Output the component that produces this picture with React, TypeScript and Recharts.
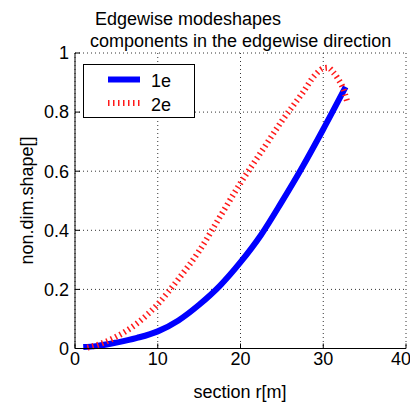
import React from 'react';
import { LineChart, Line, XAxis, YAxis, CartesianGrid, Legend } from 'recharts';

const FONT = '"Liberation Sans", Arial, sans-serif';

const titleLines = ['Edgewise modeshapes', 'components in the edgewise direction'];
const xLabel = 'section r[m]';
const yLabel = 'non.dim.shape[]';
const xTicks = [0, 10, 20, 30, 40];
const yTicks = [0, 0.2, 0.4, 0.6, 0.8, 1];
const seriesNames = ['1e', '2e'];

const blueX = [1, 2.5, 5, 7.5, 10, 12.5, 15, 17.5, 20, 22.5, 25, 27.5, 30, 32.7];
const blueY = [0.005, 0.008, 0.02, 0.036, 0.058, 0.095, 0.148, 0.212, 0.292, 0.385, 0.497, 0.615, 0.742, 0.885];

const redX = [1.5, 3, 5, 7.5, 10, 12.5, 15, 17.5, 20, 22.5, 25, 27.5, 29, 30, 30.6, 31.2, 31.8, 32.3, 32.9];
const redY = [0.003, 0.015, 0.04, 0.085, 0.15, 0.235, 0.33, 0.445, 0.56, 0.665, 0.77, 0.865, 0.925, 0.948, 0.95, 0.935, 0.912, 0.887, 0.835];

const blueData = blueX.map((x, i) => ({ x, y: blueY[i] }));
const redData = redX.map((x, i) => ({ x, y: redY[i] }));

const BLUE = '#0000ff';
const RED = '#ff1a1a';
const RED_DASH = '1.5 3.5';

const renderLegend = () => (
  <svg width={112} height={54} style={{ display: 'block' }}>
    <rect x={0.5} y={0.5} width={111} height={53} fill="#fff" stroke="#000" strokeWidth={1} />
    <line x1={25} x2={57} y1={15.5} y2={15.5} stroke={BLUE} strokeWidth={6} />
    <text x={68} y={23} fontSize={18} fontFamily={FONT} fill="#000">{seriesNames[0]}</text>
    <line x1={25} x2={57} y1={39} y2={39} stroke={RED} strokeWidth={6} strokeDasharray={RED_DASH} />
    <text x={68} y={46.5} fontSize={18} fontFamily={FONT} fill="#000">{seriesNames[1]}</text>
  </svg>
);

export default function App() {
  return (
    <div style={{ position: 'absolute', left: 0, top: 0, width: 410, height: 406, background: '#fff' }}>
      <LineChart
        width={410}
        height={406}
        margin={{ top: 53, right: 4, bottom: 27.5, left: 0 }}
        style={{ fontFamily: FONT }}
      >
        <CartesianGrid stroke="#333" strokeDasharray="1 3" />
        <XAxis
          type="number"
          dataKey="x"
          domain={[0, 40]}
          ticks={xTicks}
          allowDataOverflow
          height={30}
          stroke="#000"
          tickSize={-5}
          tickMargin={9}
          tick={{ fill: '#000', fontSize: 18, fontFamily: FONT }}
        />
        <YAxis
          type="number"
          dataKey="y"
          domain={[0, 1]}
          ticks={yTicks}
          width={75}
          stroke="#000"
          tickSize={-5}
          tickMargin={11}
          tick={{ fill: '#000', fontSize: 18, fontFamily: FONT }}
        />
        <Legend
          layout="horizontal"
          verticalAlign="middle"
          align="center"
          content={renderLegend}
          wrapperStyle={{ position: 'absolute', left: 83, top: 64, width: 112, height: 54 }}
        />
        <Line
          data={blueData}
          dataKey="y"
          name={seriesNames[0]}
          type="monotone"
          stroke={BLUE}
          strokeWidth={6}
          dot={false}
          isAnimationActive={false}
        />
        <Line
          data={redData}
          dataKey="y"
          name={seriesNames[1]}
          type="monotone"
          stroke={RED}
          strokeWidth={6}
          strokeDasharray={RED_DASH}
          dot={false}
          isAnimationActive={false}
        />
      </LineChart>
      <svg
        width={410}
        height={406}
        style={{ position: 'absolute', left: 0, top: 0, pointerEvents: 'none' }}
      >
        <text x={95} y={25} fontSize={18} fontFamily={FONT} fill="#000">{titleLines[0]}</text>
        <text x={90} y={47} fontSize={18} fontFamily={FONT} fill="#000">{titleLines[1]}</text>
        <text x={240} y={398} fontSize={18} fontFamily={FONT} fill="#000" textAnchor="middle">{xLabel}</text>
        <text
          x={33}
          y={200.5}
          fontSize={18}
          fontFamily={FONT}
          fill="#000"
          textAnchor="middle"
          transform="rotate(-90, 33, 200.5)"
        >
          {yLabel}
        </text>
      </svg>
    </div>
  );
}
